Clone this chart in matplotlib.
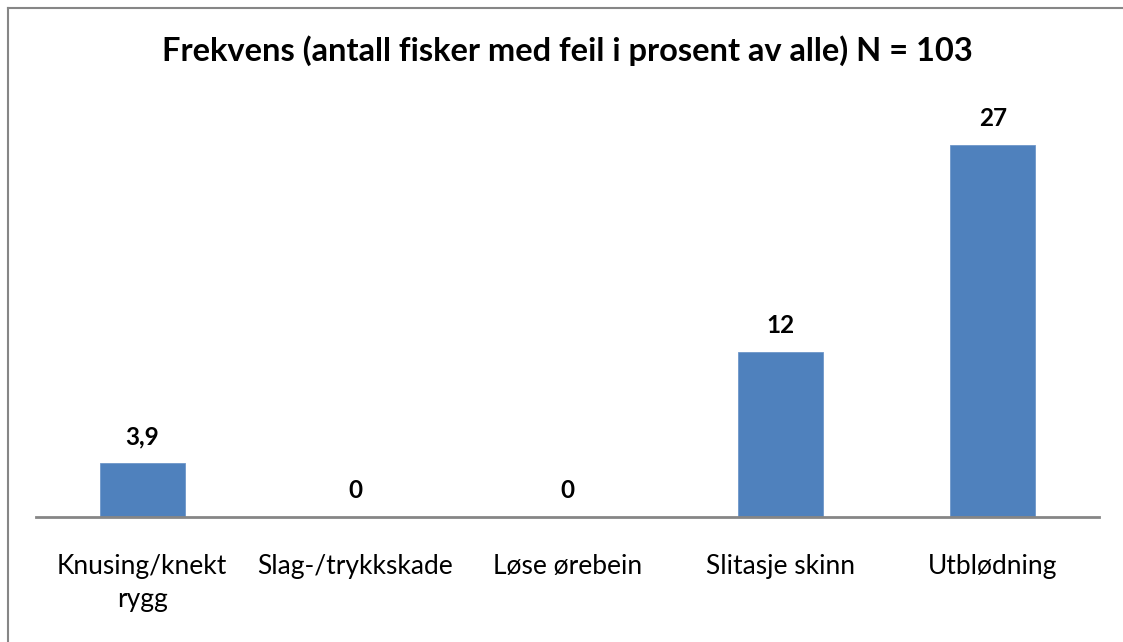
import matplotlib.pyplot as plt
from matplotlib.lines import Line2D

# data
categories = ["Knusing/knekt\nrygg", "Slag-/trykkskade", "Løse ørebein",
              "Slitasje skinn", "Utblødning"]
values = [3.9, 0, 0, 12, 27]
value_labels = ["3,9", "0", "0", "12", "27"]
title = "Frekvens (antall fisker med feil i prosent av alle) N = 103"

plt.rcParams['font.family'] = ['Lato', 'DejaVu Sans']

W, H = 1123, 642
fig = plt.figure(figsize=(W / 100, H / 100), dpi=100)

# plot area placed in pixel units
ax = fig.add_axes([36 / W, 125 / H, 1063 / W, 413 / H])
x = range(len(categories))
bars = ax.bar(x, values, width=0.4, color="#4f81bd", edgecolor="#6f97c9",
              linewidth=0.6)
ax.set_xlim(-0.5, len(categories) - 0.5)
ax.set_ylim(0, 30)

for b, lab in zip(bars, value_labels):
    ax.annotate(lab, (b.get_x() + b.get_width() / 2, b.get_height()),
                xytext=(0, 19), textcoords="offset points",
                ha="center", va="center", fontsize=17.5, fontweight="bold")

ax.set_xticks(list(x))
ax.set_xticklabels(categories, fontsize=19, linespacing=1.4)
ax.tick_params(axis="x", length=0, pad=26.5)
ax.set_yticks([])
for s in ["top", "right", "left"]:
    ax.spines[s].set_visible(False)
ax.spines["bottom"].set_color("#868686")
ax.spines["bottom"].set_linewidth(2)

fig.text(567 / W, 1 - 51 / H, title, ha="center", va="center",
         fontsize=23.5, fontweight="bold")

# outer chart border (left and top only visible)
fig.add_artist(Line2D([8 / W, 8 / W], [0, 1 - 8 / H], transform=fig.transFigure,
                      color="#868686", linewidth=1.5))
fig.add_artist(Line2D([8 / W, 1], [1 - 8 / H, 1 - 8 / H], transform=fig.transFigure,
                      color="#868686", linewidth=1.5))

fig.savefig("out.png", dpi=100)
